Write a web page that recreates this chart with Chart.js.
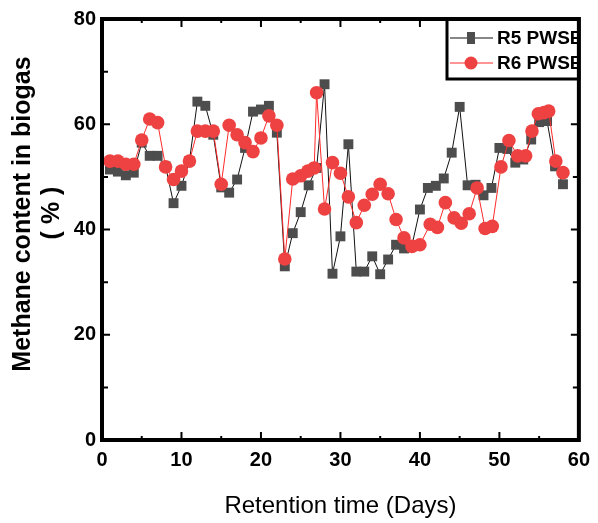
<!DOCTYPE html>
<html>
<head>
<meta charset="utf-8">
<script src="https://cdn.jsdelivr.net/npm/chart.js@4.4.1/dist/chart.umd.min.js"></script>
<style>
html,body{margin:0;padding:0;background:#fff;}
#wrap{width:598px;height:523px;}
</style>
</head>
<body>
<div id="wrap"><canvas id="c" width="598" height="523"></canvas></div>
<script>
// ---- data ----
const xTickLabels = [0, 10, 20, 30, 40, 50, 60];
const yTickLabels = [0, 20, 40, 60, 80];

const r5Days = [1,2,3,4,5,6,7,8,9,10,11,12,13,14,15,16,17,18,19,20,21,22,23,24,25,26,27,28,29,30,
  31,32,33,34,35,36,37,38,39,40,41,42,43,44,45,46,47,48,49,50,51,52,53,54,55,56,57,58];
const r5Values = [51.4,51,50.3,50.8,56.5,54,54,52,45,48.3,53,64.3,63.5,58,48,47,49.5,55.5,62.4,62.8,
  63.5,58.4,33,39.3,43.3,48.4,51.7,67.6,31.6,38.7,56.2,32,32,34.9,31.5,34.3,37.1,36.4,37,43.8,
  47.9,48.3,49.7,54.6,63.3,48.4,48.5,46.5,47.9,55.5,55.3,52.7,53.3,57.1,60.4,60.6,52,48.6];

const r6Days = [1,2,3,4,5,6,7,8,9,10,11,12,13,14,15,16,17,18,19,20,21,22,23,24,25,25.9,26.7,27,28,29,
  30,31,32,33,34,35,36,37,38,39,40,41.3,42.2,43.2,44.3,45.2,46.2,47.2,48.2,49.1,50.2,51.2,52.3,53.3,
  54.1,54.9,55.6,56.2,57.1,58];
const r6Values = [53,53,52.4,52.4,57,61,60.3,51.9,49.5,51.1,53,58.7,58.7,58.7,48.6,59.8,58,56.5,54.8,57.4,
  61.6,59.8,34.4,49.6,50.2,51.1,51.7,66,43.9,52.7,50.7,46.2,41.3,44.6,46.7,48.6,46.8,41.9,38.4,36.8,
  37.1,41,40.4,45.1,42.2,41.2,43,47.9,40.2,40.6,51.9,56.9,54,54,58.7,62,62.2,62.5,53,50.8];

const seriesNames = ['R5 PWSE', 'R6 PWSE'];
const xTitle = 'Retention time (Days)';
const yTitleLines = ['Methane content in biogas', '( % )'];

const toPts = (xs, ys) => xs.map((x, i) => ({x: x, y: ys[i]}));

const R5_FILL = '#4d4d4d', R5_LINE = '#111111';
const R6_FILL = '#ee4242', R6_LINE = '#ff2a2a';
const FONT = "'Liberation Sans', Arial, sans-serif";

const framePlugin = {
  id: 'frame',
  afterDatasetsDraw(chart) {
    const ctx = chart.ctx;
    const a = chart.chartArea;
    const xs = chart.scales.x, ys = chart.scales.y;
    ctx.save();
    ctx.strokeStyle = '#000';
    // ticks
    ctx.lineWidth = 2;
    for (let v = 0; v <= 60; v += 5) {
      const px = xs.getPixelForValue(v);
      const len = (v % 10 === 0) ? 8 : 4;
      ctx.beginPath();
      ctx.moveTo(px, a.bottom); ctx.lineTo(px, a.bottom - len);
      ctx.moveTo(px, a.top); ctx.lineTo(px, a.top + len);
      ctx.stroke();
    }
    for (let v = 0; v <= 80; v += 10) {
      const py = ys.getPixelForValue(v);
      const len = (v % 20 === 0) ? 8 : 6;
      ctx.beginPath();
      ctx.moveTo(a.left, py); ctx.lineTo(a.left + len, py);
      ctx.moveTo(a.right, py); ctx.lineTo(a.right - len, py);
      ctx.stroke();
    }
    // legend
    const lx = 447, ly = a.top, lw = a.right - 447, lh = 60;
    ctx.fillStyle = '#fff';
    ctx.fillRect(lx, ly, lw, lh);
    ctx.save();
    ctx.beginPath(); ctx.rect(lx, ly, lw, lh); ctx.clip();
    const rows = [
      {y: ly + 19, name: seriesNames[0], line: R5_LINE, fill: R5_FILL, sq: true},
      {y: ly + 44, name: seriesNames[1], line: R6_LINE, fill: R6_FILL, sq: false}
    ];
    rows.forEach(r => {
      ctx.strokeStyle = r.line; ctx.lineWidth = 1;
      ctx.beginPath(); ctx.moveTo(lx + 3, r.y); ctx.lineTo(lx + 46, r.y); ctx.stroke();
      ctx.fillStyle = r.fill;
      if (r.sq) { ctx.fillRect(lx + 20, r.y - 6, 8, 12); }
      else { ctx.beginPath(); ctx.arc(lx + 24, r.y, 6.5, 0, Math.PI * 2); ctx.fill(); }
      ctx.fillStyle = '#000';
      ctx.font = 'bold 19px ' + FONT;
      ctx.textAlign = 'left'; ctx.textBaseline = 'middle';
      ctx.fillText(r.name, lx + 50, r.y + 1);
    });
    ctx.restore();
    ctx.strokeStyle = '#000'; ctx.lineWidth = 3;
    ctx.strokeRect(lx, ly, lw, lh);
    // frame
    ctx.lineWidth = 4;
    ctx.strokeRect(a.left, a.top, a.right - a.left, a.bottom - a.top);
    // titles
    ctx.fillStyle = '#000';
    ctx.font = '24px ' + FONT;
    ctx.textAlign = 'center'; ctx.textBaseline = 'middle';
    ctx.fillText(xTitle, (a.left + a.right) / 2, 506);
    ctx.font = 'bold 25px ' + FONT;
    ctx.save();
    ctx.translate(23, 214);
    ctx.rotate(-Math.PI / 2);
    ctx.fillText(yTitleLines[0], 0, 0);
    ctx.restore();
    ctx.save();
    ctx.translate(52, 213);
    ctx.rotate(-Math.PI / 2);
    ctx.fillText(yTitleLines[1], 0, 0);
    ctx.restore();
    ctx.restore();
  }
};

new Chart(document.getElementById('c'), {
  type: 'scatter',
  data: {
    datasets: [
      {
        label: seriesNames[0],
        data: toPts(r5Days, r5Values),
        showLine: true,
        borderColor: R5_LINE,
        borderWidth: 1,
        backgroundColor: R5_FILL,
        pointStyle: 'rect',
        pointRadius: 7,
        pointBorderWidth: 0,
        pointBorderColor: R5_FILL,
        pointBackgroundColor: R5_FILL,
        order: 2
      },
      {
        label: seriesNames[1],
        data: toPts(r6Days, r6Values),
        showLine: true,
        borderColor: R6_LINE,
        borderWidth: 1,
        backgroundColor: R6_FILL,
        pointStyle: 'circle',
        pointRadius: 6.8,
        pointBorderWidth: 0,
        pointBorderColor: R6_FILL,
        pointBackgroundColor: R6_FILL,
        order: 1
      }
    ]
  },
  options: {
    responsive: false,
    animation: false,
    devicePixelRatio: 1,
    layout: {padding: {top: 19, right: 14, left: 0, bottom: 0}},
    plugins: {legend: {display: false}, tooltip: {enabled: false}},
    scales: {
      x: {
        type: 'linear', min: 0, max: 60,
        afterBuildTicks: s => { s.ticks = xTickLabels.map(v => ({value: v})); },
        afterFit: s => { s.height = 83; },
        grid: {display: false, drawTicks: false},
        border: {display: false},
        ticks: {color: '#000', padding: 8, font: {family: FONT, size: 20, weight: 'bold'}, maxRotation: 0}
      },
      y: {
        type: 'linear', min: 0, max: 80,
        afterBuildTicks: s => { s.ticks = yTickLabels.map(v => ({value: v})); },
        afterFit: s => { s.width = 102; },
        grid: {display: false, drawTicks: false},
        border: {display: false},
        ticks: {color: '#000', padding: 6, font: {family: FONT, size: 20, weight: 'bold'}}
      }
    }
  },
  plugins: [framePlugin]
});
</script>
</body>
</html>
